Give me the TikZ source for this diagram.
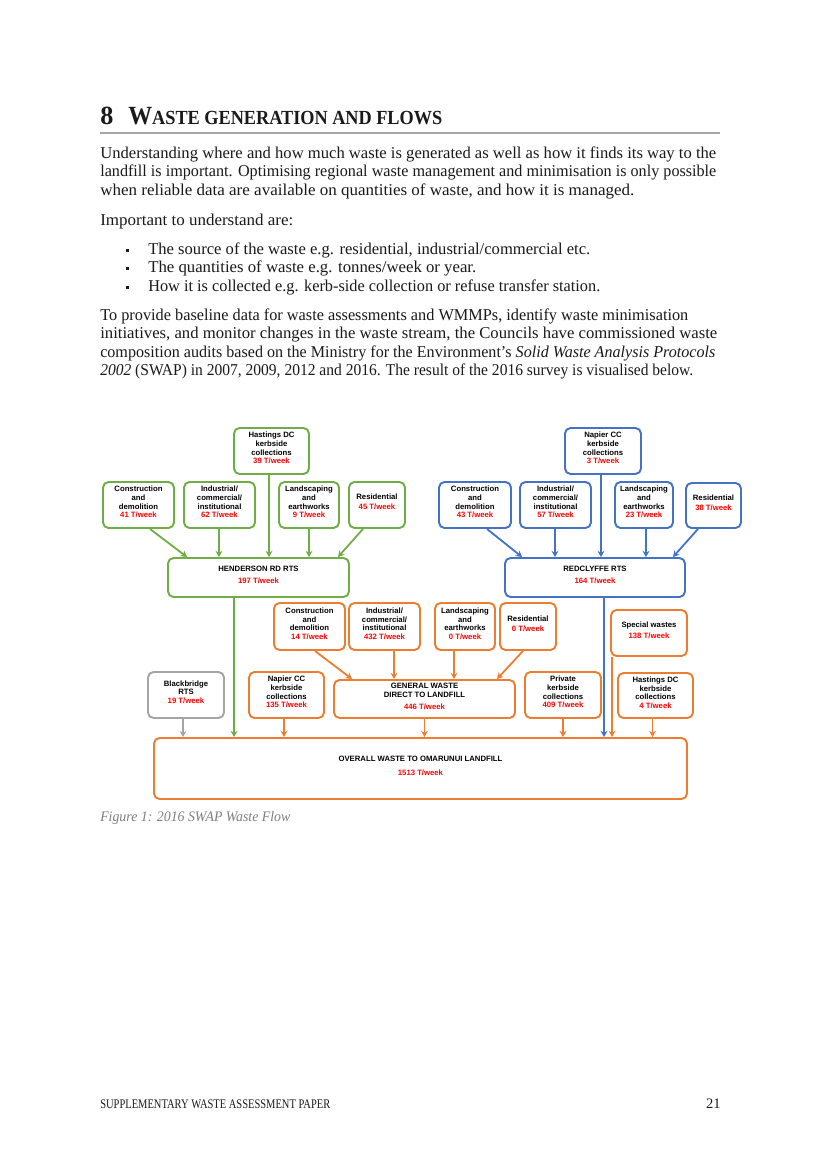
\documentclass[tikz,border=0pt]{standalone}
\usepackage{fontspec}
\usepackage{graphicx}
\setmainfont{Liberation Serif}
\newfontfamily\diag{Liberation Sans}
\usetikzlibrary{arrows.meta,fit,calc}
\definecolor{cgreen}{HTML}{70AD47}
\definecolor{cblue}{HTML}{4472C4}
\definecolor{corange}{HTML}{ED7D31}
\definecolor{cgray}{HTML}{A5A5A5}
\definecolor{cred}{HTML}{FF0000}
\definecolor{ctext}{HTML}{1A1A1A}
\definecolor{ccap}{HTML}{7F7F7F}
\newlength\pxu
\setlength\pxu{0.7247pt}
\newcommand\wk[1]{\textcolor{cred}{#1 T/week}}
\newcommand\tline[5]{\node[body] (#1) at (#2,#3) {\resizebox{#4\pxu}{\height}{#5}};}
\begin{document}
\begin{tikzpicture}[x=0.7247pt,y=-0.7247pt,
  box/.style={draw, rounded corners=4pt, line width=1.4pt, fill=white, inner sep=0pt,
    align=center, text=black, font=\diag\bfseries\fontsize{5.6}{6.3}\selectfont},
  gbox/.style={box, draw=cgreen},
  bbox/.style={box, draw=cblue},
  obox/.style={box, draw=corange},
  ybox/.style={box, draw=cgray},
  flow/.style={line width=1.3pt, -{Stealth[length=4.5pt,width=5pt]}},
  gflow/.style={flow, draw=cgreen},
  bflow/.style={flow, draw=cblue},
  oflow/.style={flow, draw=corange},
  yflow/.style={flow, draw=cgray},
  body/.style={anchor=base west, inner sep=0pt, text=ctext, font=\fontsize{12}{14}\selectfont},
]
\useasboundingbox (0,0) rectangle (821,1160);
\fill[white] (0,0) rectangle (821,1160);

% ---------- heading ----------
\node[body, font=\bfseries\fontsize{19}{19}\selectfont] (h8) at (100,125) {8};
\node[body] (htitle) at (128,125) {\resizebox{314\pxu}{\height}{\bfseries\fontsize{19}{19}\selectfont W\fontsize{14.5}{14.5}\selectfont ASTE GENERATION AND FLOWS}};
\draw[black!35, line width=0.8pt] (100,133) -- (720,133);

% ---------- body text ----------
\tline{l1}{100}{159}{616}{Understanding where and how much waste is generated as well as how it finds its way to the}
\tline{l2}{100}{177}{616}{landfill is important. Optimising regional waste management and minimisation is only possible}
\tline{l3}{100}{195}{534}{when reliable data are available on quantities of waste, and how it is managed.}
\tline{l4}{100}{225}{193}{Important to understand are:}
\fill[ctext] (125.5,249) rectangle (128.5,252);
\fill[ctext] (125.5,267) rectangle (128.5,270);
\fill[ctext] (125.5,286) rectangle (128.5,289);
\tline{b1}{148}{254}{442}{The source of the waste e.g. residential, industrial/commercial etc.}
\tline{b2}{148}{272}{328}{The quantities of waste e.g. tonnes/week or year.}
\tline{b3}{148}{291}{452}{How it is collected e.g. kerb-side collection or refuse transfer station.}
\tline{p1}{100}{320}{588}{To provide baseline data for waste assessments and WMMPs, identify waste minimisation}
\tline{p2}{100}{338}{617}{initiatives, and monitor changes in the waste stream, the Councils have commissioned waste}
\tline{p3}{100}{357}{615}{composition audits based on the Ministry for the Environment’s \textit{Solid Waste Analysis Protocols}}
\tline{p4}{100}{375}{593}{\textit{2002} (SWAP) in 2007, 2009, 2012 and 2016. The result of the 2016 survey is visualised below.}

% ---------- green (Henderson) ----------
\node[gbox, fit={(234,428)(309,474)}] (ghast) {Hastings DC\\kerbside\\collections\\\wk{39}};
\node[gbox, fit={(103,482)(174,528)}] (gcon) {Construction\\and\\demolition\\\wk{41}};
\node[gbox, fit={(184,482)(255,528)}] (gind) {Industrial/\\commercial/\\institutional\\\wk{62}};
\node[gbox, fit={(279,482)(339,528)}] (glan) {Landscaping\\and\\earthworks\\\wk{9}};
\node[gbox, fit={(349,482)(405,528)}] (gres) {Residential\\[1pt]\wk{45}};
\node[gbox, fit={(168,558)(349,597)}] (hend) {HENDERSON RD RTS\\[3pt]\wk{197}};

% ---------- blue (Redclyffe) ----------
\node[bbox, fit={(565,428)(641,474)}] (bnap) {Napier CC\\kerbside\\collections\\\wk{3}};
\node[bbox, fit={(439,482)(511,528)}] (bcon) {Construction\\and\\demolition\\\wk{43}};
\node[bbox, fit={(520,482)(591,528)}] (bind) {Industrial/\\commercial/\\institutional\\\wk{57}};
\node[bbox, fit={(615,482)(673,528)}] (blan) {Landscaping\\and\\earthworks\\\wk{23}};
\node[bbox, fit={(686,483)(741,528)}] (bres) {Residential\\[1pt]\wk{38}\\[3pt]};
\node[bbox, fit={(505,558)(685,597)}] (redc) {REDCLYFFE RTS\\[3pt]\wk{164}};

% ---------- orange (direct) ----------
\node[obox, fit={(274,603)(345,650)}] (ocon) {Construction\\and\\demolition\\\wk{14}};
\node[obox, fit={(349,603)(420,650)}] (oind) {Industrial/\\commercial/\\institutional\\\wk{432}};
\node[obox, fit={(435,603)(495,650)}] (olan) {Landscaping\\and\\earthworks\\\wk{0}};
\node[obox, fit={(500,603)(556,650)}] (ores) {Residential\\[1pt]\wk{0}};
\node[obox, fit={(611,610)(687,656)}] (spec) {Special wastes\\[2pt]\wk{138}};
\node[ybox, fit={(148,672)(224,718)}] (bb) {Blackbridge\\RTS\\\wk{19}};
\node[obox, fit={(249,672)(324,718)}] (onap) {Napier CC\\kerbside\\collections\\\wk{135}};
\node[obox, fit={(334,680)(515,718)}] (gw) {GENERAL WASTE\\DIRECT TO LANDFILL\\[2pt]\wk{446}};
\node[obox, fit={(525,672)(601,718)}] (priv) {Private\\kerbside\\collections\\\wk{409}};
\node[obox, fit={(618,673)(693,718)}] (ohast) {Hastings DC\\kerbside\\collections\\\wk{4}};
\node[obox, fit={(154,738)(687,799)}] (land) {OVERALL WASTE TO OMARUNUI LANDFILL\\[4pt]\wk{1513}};

% ---------- green connectors ----------
\draw[gflow] ($(gcon.south)+(11.5,0)$) -- ($(hend.north west)+(20,0)$);
\coordinate (gis) at ($(gind.south)+(-0.5,0)$);
\draw[gflow] (gis) -- (gis |- hend.north);
\coordinate (ghs) at ($(ghast.south)+(-2.5,0)$);
\draw[gflow] (ghs) -- (ghs |- hend.north);
\draw[gflow] (glan.south) -- (glan.south |- hend.north);
\draw[gflow] ($(gres.south)+(-14,0)$) -- ($(hend.north east)+(-12,0)$);
\coordinate (hs) at ($(hend.south west)+(67,0)$);
\draw[gflow] (hs) -- (hs |- land.north);

% ---------- blue connectors ----------
\draw[bflow] ($(bcon.south)+(12,0)$) -- ($(redc.north west)+(18,0)$);
\coordinate (bis) at ($(bind.south)+(-0.5,0)$);
\draw[bflow] (bis) -- (bis |- redc.north);
\coordinate (bns) at ($(bnap.south)+(-2,0)$);
\draw[bflow] (bns) -- (bns |- redc.north);
\coordinate (bls) at ($(blan.south)+(2,0)$);
\draw[bflow] (bls) -- (bls |- redc.north);
\draw[bflow] ($(bres.south)+(-15.5,0)$) -- ($(redc.north east)+(-13,0)$);
\coordinate (rs) at ($(redc.south west)+(100,0)$);
\draw[bflow] (rs) -- (rs |- land.north);

% ---------- orange connectors ----------
\draw[oflow] ($(ocon.south)+(5.5,0)$) -- ($(gw.north west)+(19,0)$);
\coordinate (ois) at ($(oind.south)+(9.5,0)$);
\draw[oflow] (ois) -- (ois |- gw.north);
\coordinate (ols) at ($(olan.south)+(-11,0)$);
\draw[oflow] (ols) -- (ols |- gw.north);
\draw[oflow] ($(ores.south)+(-5,0)$) -- ($(gw.north east)+(-19,0)$);
\coordinate (bbs) at ($(bb.south)+(-3,0)$);
\draw[yflow] (bbs) -- (bbs |- land.north);
\coordinate (ons) at ($(onap.south)+(-2.5,0)$);
\draw[oflow] (ons) -- (ons |- land.north);
\draw[oflow] (gw.south) -- (gw.south |- land.north);
\draw[oflow] (priv.south) -- (priv.south |- land.north);
\coordinate (ss) at ($(spec.south west)+(2,0)$);
\draw[oflow] (ss) -- (ss |- land.north);
\coordinate (hhs) at ($(ohast.south)+(-3,0)$);
\draw[oflow] (hhs) -- (hhs |- land.north);

% ---------- caption and footer ----------
\node[body, text=ccap] (cap) at (100,821) {\resizebox{190\pxu}{\height}{\itshape\fontsize{10.5}{12}\selectfont Figure 1: 2016 SWAP Waste Flow}};
\node[body] (foot) at (100,1108) {\resizebox{230\pxu}{\height}{\fontsize{9.5}{11}\selectfont SUPPLEMENTARY WASTE ASSESSMENT PAPER}};
\node[body, anchor=base east, font=\fontsize{10.5}{12}\selectfont] (pg) at (721,1108) {21};
\end{tikzpicture}
\end{document}
